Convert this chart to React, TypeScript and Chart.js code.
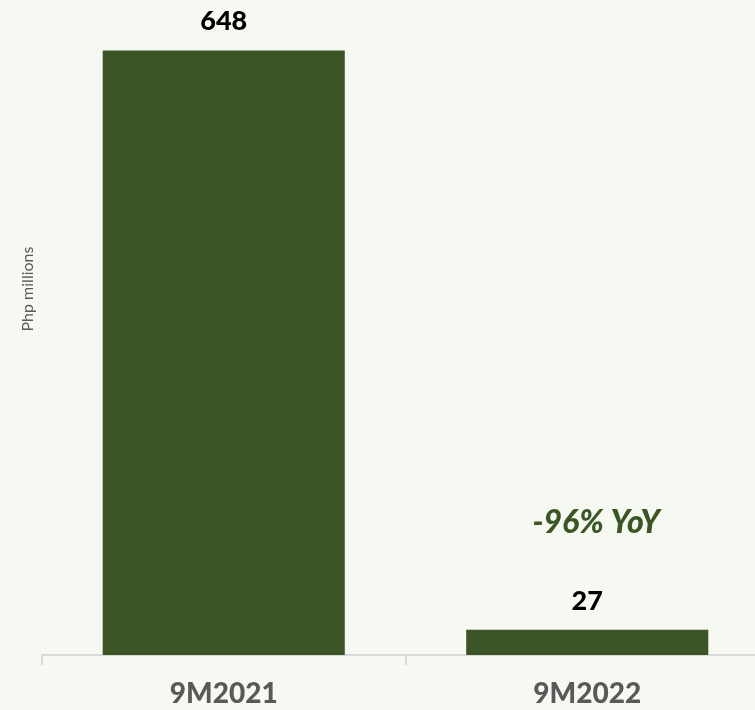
import React, { useEffect, useRef } from "react";
import { Chart, registerables } from "chart.js";

Chart.register(...registerables);

const categories = ["9M2021", "9M2022"];
const values = [648, 27];
const yoyLabel = "-96% YoY";
const yAxisTitle = "Php millions";

const BG = "#F6F8F2";
const BAR = "#3B5624";
const AXIS = "#D9D9D9";
const FONT = "Lato, 'Open Sans', sans-serif";

export default function App() {
  const ref = useRef<HTMLCanvasElement | null>(null);

  useEffect(() => {
    if (!ref.current) return;
    const labelsPlugin = {
      id: "labelsPlugin",
      afterDatasetsDraw(chart: any) {
        const ctx = chart.ctx;
        const meta = chart.getDatasetMeta(0);
        ctx.save();
        ctx.textAlign = "center";
        ctx.textBaseline = "middle";
        meta.data.forEach((bar: any, i: number) => {
          ctx.fillStyle = "#000000";
          ctx.font = `900 27px ${FONT}`;
          ctx.fillText(String(values[i]), bar.x, bar.y - 29);
        });
        const last = meta.data[meta.data.length - 1];
        ctx.fillStyle = BAR;
        ctx.font = `italic 900 32px ${FONT}`;
        ctx.fillText(yoyLabel, last.x + 9, last.y - 107);
        // y axis title
        ctx.translate(28, 289);
        ctx.rotate(-Math.PI / 2);
        ctx.fillStyle = "#595959";
        ctx.font = `16px ${FONT}`;
        ctx.fillText(yAxisTitle, 0, 0);
        ctx.restore();
      },
    };

    const chart = new Chart(ref.current, {
      type: "bar",
      data: {
        labels: categories,
        datasets: [
          {
            data: values,
            backgroundColor: BAR,
            borderWidth: 0,
            barPercentage: 0.666,
            categoryPercentage: 1,
          },
        ],
      },
      options: {
        responsive: false,
        animation: false,
        layout: { padding: { left: 42, right: 1, top: 2, bottom: 0 } },
        plugins: {
          legend: { display: false },
          tooltip: { enabled: false },
        },
        scales: {
          x: {
            offset: true,
            afterFit: (scale: any) => {
              scale.height = 55;
            },
            grid: {
              display: true,
              offset: true,
              drawOnChartArea: false,
              drawTicks: true,
              tickLength: 10,
              color: AXIS,
              lineWidth: 2,
            },
            border: { display: true, color: AXIS, width: 2 },
            ticks: {
              color: "#595959",
              font: { family: FONT, size: 28, weight: "900" },
              padding: 12,
            },
          },
          y: {
            display: false,
            min: 0,
            max: 700,
          },
        },
      },
      plugins: [labelsPlugin],
    });
    return () => chart.destroy();
  }, []);

  return (
    <div
      style={{
        position: "fixed",
        left: 0,
        top: 0,
        width: 755,
        height: 710,
        overflow: "hidden",
        background: BG,
      }}
    >
      <canvas ref={ref} width={770} height={710} style={{ display: "block" }} />
    </div>
  );
}
